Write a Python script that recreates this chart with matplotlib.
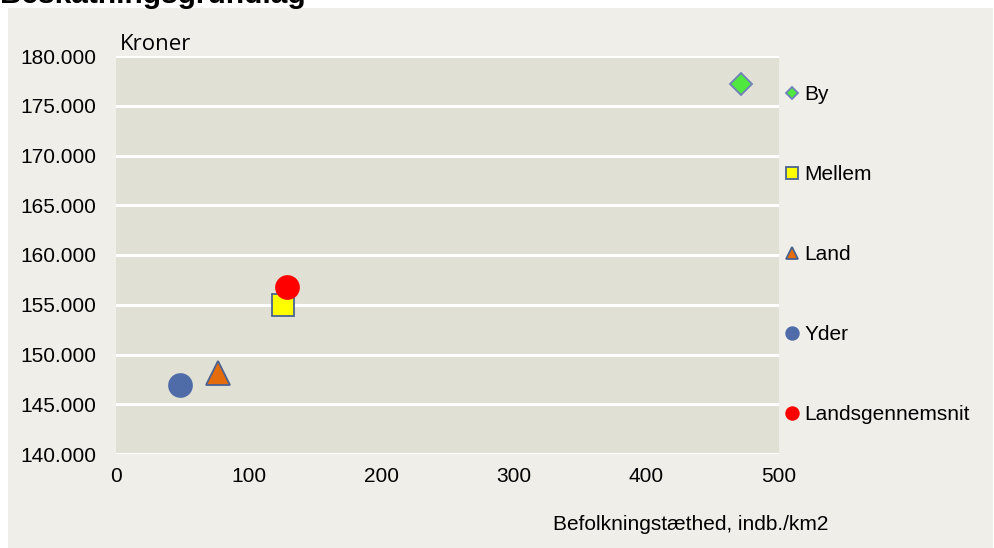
import matplotlib.pyplot as plt
from matplotlib.patches import Rectangle
from matplotlib.ticker import FuncFormatter, MultipleLocator

# data
labels = ["By", "Mellem", "Land", "Yder", "Landsgennemsnit"]
density = [471, 126, 77, 48, 129]          # indb./km2
base_kr = [177200, 155000, 148100, 146900, 156800]  # kroner

markers = ["D", "s", "^", "o", "o"]
faces = ["#4FE83F", "#FFFF00", "#E46C0A", "#4F6CA8", "#FF0000"]
edges = ["#6F80B8", "#4A6392", "#4A6392", "#4F6CA8", "#FF0000"]
sizes = [11.5, 16, 17, 16.5, 16.5]

W, H = 994, 548
plt.rcParams["font.family"] = ["Liberation Sans", "DejaVu Sans"]

fig = plt.figure(figsize=(W / 100, H / 100), dpi=100, facecolor="white")
fig.patches.append(Rectangle((8 / W, 0), (993 - 8) / W, (H - 8) / H,
                             transform=fig.transFigure, facecolor="#EFEEE8",
                             edgecolor="none", zorder=-10))

ax = fig.add_axes([116 / W, (H - 454) / H, 663 / W, 398 / H])
ax.set_facecolor("#E0E0D5")
for s in ax.spines.values():
    s.set_visible(False)

ax.set_xlim(0, 500)
ax.set_ylim(140000, 180000)
ax.xaxis.set_major_locator(MultipleLocator(100))
ax.yaxis.set_major_locator(MultipleLocator(5000))
ax.yaxis.set_major_formatter(FuncFormatter(lambda v, p: f"{int(v):,}".replace(",", ".")))
ax.tick_params(length=0, labelsize=15)
ax.tick_params(axis="y", pad=14)
ax.tick_params(axis="x", pad=9)
ax.grid(axis="y", color="white", lw=2.2)
ax.set_axisbelow(True)

for i in range(len(labels)):
    ax.plot(density[i], base_kr[i], linestyle="none", marker=markers[i],
            markersize=sizes[i], markerfacecolor=faces[i],
            markeredgecolor=edges[i], markeredgewidth=1.3,
            label=labels[i], clip_on=False, zorder=3)

leg = ax.legend(loc="upper left", bbox_to_anchor=(786 / W, 1 - 85 / H),
                bbox_transform=fig.transFigure, frameon=False, fontsize=15,
                markerscale=0.55, handlelength=0.6, handletextpad=0.3,
                labelspacing=2.93, borderpad=0, borderaxespad=0)

fig.text(120 / W, 1 - 44 / H, "Kroner", fontsize=16, va="center", ha="left",
         family=["Open Sans", "DejaVu Sans"])
fig.text(828 / W, 1 - 524 / H, "Befolkningstæthed, indb./km2", fontsize=15,
         va="center", ha="right")
fig.text(0, 1 - 3 / H, "Beskatningsgrundlag", fontsize=21.5, weight="bold",
         va="baseline", ha="left")

fig.savefig("out.png", dpi=100, facecolor=fig.get_facecolor())
